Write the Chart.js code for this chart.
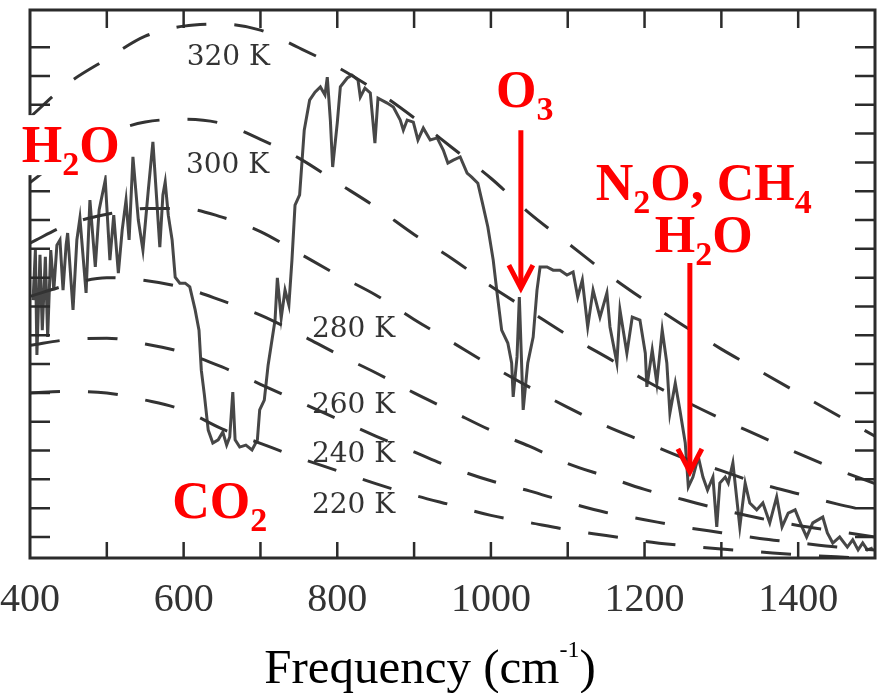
<!DOCTYPE html>
<html>
<head>
<meta charset="utf-8">
<script src="https://cdn.jsdelivr.net/npm/chart.js@4"></script>
<style>
  html, body { margin: 0; padding: 0; background: #fff; }
</style>
</head>
<body>
<canvas id="myChart" width="880" height="693"></canvas>
<script>
'use strict';

// measured spectrum, frequency (cm-1) and radiance
const specFreq = [404, 407, 409, 413, 416, 420, 423, 427, 431, 435,
  439, 443, 447, 449, 456, 461, 465, 473, 478, 485,
  490, 498, 504, 509, 515, 520, 525, 529, 534, 541,
  547, 554, 560, 565, 569, 573, 576, 580, 585, 589,
  595, 602, 608, 615, 620, 623, 627, 632, 638, 645,
  651, 656, 660, 664, 667, 673, 681, 689, 696, 699,
  705, 710, 714, 719, 722, 727, 732, 737, 741, 745,
  751, 757, 764, 771, 778, 784, 787, 791, 794, 800,
  804, 813, 819, 827, 830, 836, 843, 849, 853, 865,
  873, 882, 886, 891, 899, 905, 912, 921, 930, 938,
  944, 951, 960, 969, 975, 983, 989, 996, 1003, 1008,
  1014, 1022, 1027, 1029, 1034, 1037, 1042, 1048, 1055, 1060,
  1064, 1073, 1081, 1090, 1099, 1107, 1113, 1119, 1126, 1133,
  1142, 1151, 1155, 1164, 1168, 1177, 1184, 1194, 1201, 1203,
  1210, 1216, 1223, 1229, 1233, 1240, 1246, 1253, 1257, 1263,
  1270, 1276, 1282, 1289, 1294, 1298, 1305, 1309, 1315, 1324,
  1331, 1337, 1346, 1354, 1363, 1372, 1379, 1387, 1396, 1405,
  1411, 1419, 1432, 1438, 1445, 1454, 1464, 1471, 1478, 1484,
  1490, 1497];
const specRad = [92.2, 109.6, 73.2, 107.9, 81.8, 107.2, 79.4, 109.6, 95.7, 111.3,
  113.1, 95.7, 111.3, 115.5, 88.8, 113.1, 120.7, 94.7, 126.9, 103.7,
  123.5, 133.9, 106.1, 121.7, 101.6, 116.5, 126.9, 113.1, 141.9, 120.0,
  109.6, 130.4, 147.1, 126.9, 110.6, 128.7, 133.2, 121.7, 113.1, 100.2,
  98.1, 98.1, 96.8, 88.8, 81.8, 67.9, 59.3, 47.1, 42.6, 43.7,
  46.4, 41.9, 44.7, 60.3, 43.7, 41.2, 41.9, 40.2, 43.7, 54.1,
  57.5, 69.7, 76.6, 85.3, 99.9, 86.0, 95.7, 90.5, 106.1, 125.2,
  128.7, 151.2, 161.6, 164.4, 166.2, 163.4, 169.6, 154.7, 138.4, 153.7,
  166.2, 169.3, 170.3, 168.6, 162.7, 165.8, 164.1, 146.7, 162.3, 160.6,
  159.2, 154.7, 151.2, 154.7, 154.0, 147.8, 151.9, 147.8, 148.5, 144.3,
  139.8, 140.8, 141.9, 136.3, 134.9, 132.8, 125.9, 117.6, 106.1, 94.7,
  81.8, 77.3, 70.4, 58.6, 72.5, 93.3, 54.1, 70.4, 79.4, 95.7,
  103.7, 103.7, 102.6, 102.6, 100.9, 102.0, 93.3, 99.2, 82.9, 95.7,
  86.3, 94.7, 82.9, 70.4, 88.8, 73.8, 86.3, 85.3, 73.8, 62.1,
  74.9, 63.4, 81.8, 70.4, 53.0, 63.4, 54.1, 42.6, 27.4, 30.8,
  37.8, 30.8, 26.3, 30.8, 13.5, 28.7, 30.8, 28.7, 35.7, 13.5,
  28.7, 21.8, 19.4, 21.8, 14.9, 23.9, 13.5, 18.3, 19.4, 13.5,
  10.0, 14.9, 16.9, 11.4, 7.9, 10.0, 6.5, 9.0, 5.5, 7.9,
  5.5, 6.2];

// dashed blackbody curves, read every 50 cm-1
const planckFreq = [400, 450, 500, 550, 600, 650, 700, 750, 800, 850, 900, 950,
  1000, 1050, 1100, 1150, 1200, 1250, 1300, 1350, 1400, 1450, 1500];
const t320 = [155.7, 167.5, 175.9, 183.8, 187.3, 188.0, 185.9, 179.8, 173.1, 165, 155.5, 145,
  134.5, 122.4, 112.0, 101.6, 92.2, 83.5, 75.2, 67.6, 60.0, 52.4, 45.0];
const t300 = [133, 143, 150, 154, 155, 153.5, 148, 141.5, 133, 124.5, 115, 106.5,
  97, 88.5, 80, 72.5, 64.5, 57.5, 51, 45, 39, 33.5, 28.5];
const t280 = [112, 118.5, 122, 124, 124, 121, 116, 108.5, 101, 94, 85.5, 77.5,
  69.5, 62, 55, 48.5, 43, 37.5, 33, 28.5, 25, 21.5, 18.5];
const t260 = [93.5, 97.5, 100, 99, 96.5, 92, 87, 80.5, 73.5, 67, 60, 53.5,
  47, 41.5, 35.5, 31, 26.5, 23, 19.5, 16.5, 14, 12, 10];
const t240 = [76.5, 78.5, 79, 77, 74, 69, 63, 57, 51, 45, 39.5, 34,
  29.5, 26, 22, 18.5, 16, 13.5, 11.5, 9.5, 8, 6.5, 5.5];
const t220 = [60, 60.5, 60, 57.5, 54, 47.5, 42.5, 37.5, 33, 28.5, 24.5, 21,
  17.5, 15, 12.5, 10.5, 8.5, 7, 5.8, 4.8, 3.8, 3.1, 2.5];

const tempLabels = ['320 K', '300 K', '280 K', '260 K', '240 K', '220 K'];
const xTickLabels = [400, 600, 800, 1000, 1200, 1400];
const yTickValues = [10, 20, 30, 40, 50, 60, 70, 80, 90, 100, 110, 120, 130, 140, 150, 160, 170, 180];

// where the temperature labels sit (left edge freq, baseline radiance)
const tempLabelAt = [[604, 173.8], [603, 136.3], [767, 79.4], [767, 53], [767, 36], [767, 18.3]];

// red gas labels: formula, centre freq, baseline radiance
const gasNotes = [
  {text: 'H_2O', f: 453, r: 140.1, box: true},
  {text: 'CO_2', f: 647, r: 16.6},
  {text: 'O_3', f: 1044, r: 159.2},
  {text: 'N_2O, CH_4', f: 1277, r: 126.9},
  {text: 'H_2O', f: 1277, r: 108.9}
];
const arrows = [
  {f: 1039, from: 151.2, to: 96.4},
  {f: 1259, from: 105.1, to: 32.6}
];

function pairs(xs, ys) {
  return xs.map((x, i) => ({x: x, y: ys[i]}));
}

function drawFormula(ctx, text, cx, base, withBox) {
  const big = 'bold 52px "Liberation Serif"';
  const small = 'bold 34px "Liberation Serif"';
  const parts = text.split(/_(\d+)/);
  let w = 0;
  parts.forEach((p, i) => {
    ctx.font = i % 2 ? small : big;
    w += ctx.measureText(p).width;
  });
  let x = cx - w / 2;
  if (withBox) {
    ctx.fillStyle = '#fff';
    ctx.fillRect(x - 3, base - 47, w + 6, 60);
  }
  ctx.fillStyle = '#ff0000';
  ctx.textAlign = 'left';
  ctx.textBaseline = 'alphabetic';
  parts.forEach((p, i) => {
    ctx.font = i % 2 ? small : big;
    ctx.fillText(p, x, base + (i % 2 ? 13 : 0));
    x += ctx.measureText(p).width;
  });
}

const decorPlugin = {
  id: 'decor',
  afterDatasetsDraw(chart) {
    const {ctx, scales: {x, y}} = chart;
    ctx.save();
    ctx.fillStyle = '#333';
    ctx.font = '28px "DejaVu Serif"';
    ctx.textAlign = 'left';
    ctx.textBaseline = 'alphabetic';
    tempLabels.forEach((t, i) => {
      ctx.fillText(t, x.getPixelForValue(tempLabelAt[i][0]), y.getPixelForValue(tempLabelAt[i][1]));
    });
    ctx.restore();
  },
  afterDraw(chart) {
    const {ctx, chartArea: a, scales: {x, y}} = chart;
    ctx.save();
    // frame
    ctx.strokeStyle = '#2b2b2b';
    ctx.lineWidth = 3;
    ctx.strokeRect(a.left, a.top, a.right - a.left, a.bottom - a.top);
    // inward ticks
    ctx.lineWidth = 2.5;
    ctx.beginPath();
    for (let f = 500; f < 1500; f += 100) {
      const px = x.getPixelForValue(f);
      ctx.moveTo(px, a.bottom); ctx.lineTo(px, a.bottom - 16);
      ctx.moveTo(px, a.top); ctx.lineTo(px, a.top + 18);
    }
    yTickValues.forEach(v => {
      const py = y.getPixelForValue(v);
      ctx.moveTo(a.left, py); ctx.lineTo(a.left + 20, py);
      ctx.moveTo(a.right, py); ctx.lineTo(a.right - 20, py);
    });
    ctx.stroke();

    // tick labels
    ctx.fillStyle = '#333';
    ctx.font = '40px "Liberation Serif"';
    ctx.textAlign = 'center';
    ctx.textBaseline = 'alphabetic';
    xTickLabels.forEach(v => {
      ctx.fillText(String(v), x.getPixelForValue(v), 611);
    });

    // axis title with superscript
    ctx.fillStyle = '#000';
    ctx.textAlign = 'left';
    const mainFont = '49px "Liberation Serif"';
    const supFont = '24px "Liberation Serif"';
    ctx.font = mainFont;
    const w1 = ctx.measureText('Frequency (cm').width;
    const w3 = ctx.measureText(')').width;
    ctx.font = supFont;
    const w2 = ctx.measureText('-1').width;
    let tx = 430 - (w1 + w2 + w3) / 2;
    const base = 683;
    ctx.font = mainFont;
    ctx.fillText('Frequency (cm', tx, base);
    tx += w1;
    ctx.font = supFont;
    ctx.fillText('-1', tx, base - 26);
    tx += w2;
    ctx.font = mainFont;
    ctx.fillText(')', tx, base);

    // red notes and arrows
    gasNotes.forEach(n => {
      drawFormula(ctx, n.text, x.getPixelForValue(n.f), y.getPixelForValue(n.r), n.box);
    });
    ctx.strokeStyle = '#ff0000';
    ctx.lineWidth = 5;
    arrows.forEach(ar => {
      const px = x.getPixelForValue(ar.f);
      const top = y.getPixelForValue(ar.from);
      const tip = y.getPixelForValue(ar.to);
      ctx.beginPath();
      ctx.moveTo(px, top);
      ctx.lineTo(px, tip - 3);
      ctx.stroke();
      ctx.beginPath();
      ctx.moveTo(px - 12, tip - 23);
      ctx.lineTo(px, tip);
      ctx.lineTo(px + 12, tip - 23);
      ctx.stroke();
    });
    ctx.restore();
  }
};

function dashed(values) {
  return {
    data: pairs(planckFreq, values),
    borderColor: '#333',
    borderWidth: 3,
    borderDash: [30, 28],
    pointRadius: 0,
    cubicInterpolationMode: 'monotone',
    fill: false
  };
}

const ctxEl = document.getElementById('myChart');
new Chart(ctxEl, {
  type: 'line',
  data: {
    datasets: [
      dashed(t320), dashed(t300), dashed(t280), dashed(t260), dashed(t240), dashed(t220),
      {
        data: pairs(specFreq, specRad),
        borderColor: '#474747',
        borderWidth: 3,
        pointRadius: 0,
        tension: 0,
        fill: false
      }
    ]
  },
  options: {
    responsive: false,
    animation: false,
    devicePixelRatio: 1,
    layout: {
      padding: {left: 30, right: 5, top: 10, bottom: 0}
    },
    plugins: {
      legend: {display: false},
      tooltip: {enabled: false}
    },
    scales: {
      x: {
        type: 'linear',
        min: 400,
        max: 1500,
        grid: {display: false, drawTicks: false},
        border: {display: false},
        ticks: {display: false, stepSize: 100},
        afterFit(scale) { scale.height = 135; }
      },
      y: {
        display: false,
        min: 2.7,
        max: 192.9
      }
    }
  },
  plugins: [decorPlugin]
});
</script>
</body>
</html>
